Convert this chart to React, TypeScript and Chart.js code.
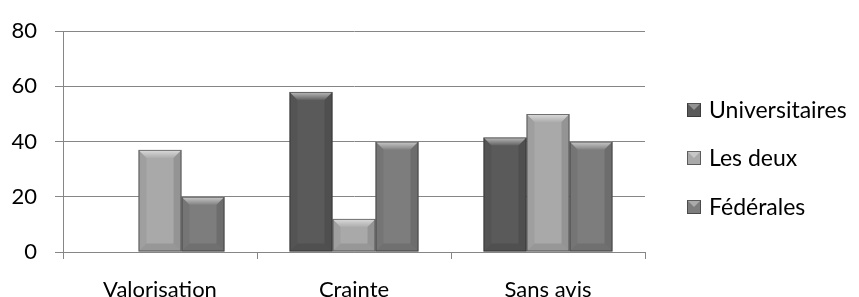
import React, { useEffect, useRef } from "react";
import { Chart, registerables } from "chart.js";

Chart.register(...registerables);

const categories = ["Valorisation", "Crainte", "Sans avis"];
const seriesNames = ["Universitaires", "Les deux", "Fédérales"];
const universitaires = [0, 58, 41.5];
const lesDeux = [37, 12, 50];
const federales = [20, 40, 40];
const yTicks = [0, 20, 40, 60, 80];

const colors = ["#5a5a5a", "#a9a9a9", "#7d7d7d"];
const FONT = "Lato, 'Liberation Sans', sans-serif";

const bevelPlugin = {
  id: "bevel",
  afterDatasetsDraw(chart: any) {
    const ctx = chart.ctx;
    chart.data.datasets.forEach((ds: any, di: number) => {
      const meta = chart.getDatasetMeta(di);
      meta.data.forEach((bar: any) => {
        const left = bar.x - bar.width / 2;
        const right = bar.x + bar.width / 2;
        const top = Math.min(bar.y, bar.base);
        const bottom = Math.max(bar.y, bar.base);
        const h = bottom - top;
        if (h < 1) return;
        const b = Math.min(8, h / 2);
        ctx.save();
        const g = ctx.createLinearGradient(0, top, 0, top + b);
        g.addColorStop(0, "rgba(255,255,255,0.6)");
        g.addColorStop(1, "rgba(255,255,255,0.05)");
        ctx.fillStyle = g;
        ctx.beginPath();
        ctx.moveTo(left, top);
        ctx.lineTo(right, top);
        ctx.lineTo(right - b, top + b);
        ctx.lineTo(left + b, top + b);
        ctx.closePath();
        ctx.fill();
        ctx.fillStyle = "rgba(0,0,0,0.06)";
        ctx.beginPath();
        ctx.moveTo(left, top);
        ctx.lineTo(left + b, top + b);
        ctx.lineTo(left + b, bottom - b);
        ctx.lineTo(left, bottom);
        ctx.closePath();
        ctx.fill();
        ctx.fillStyle = "rgba(0,0,0,0.12)";
        ctx.beginPath();
        ctx.moveTo(right, top);
        ctx.lineTo(right - b, top + b);
        ctx.lineTo(right - b, bottom - b);
        ctx.lineTo(right, bottom);
        ctx.closePath();
        ctx.fill();
        ctx.fillStyle = "rgba(0,0,0,0.1)";
        ctx.beginPath();
        ctx.moveTo(left, bottom);
        ctx.lineTo(left + b, bottom - b);
        ctx.lineTo(right - b, bottom - b);
        ctx.lineTo(right, bottom);
        ctx.closePath();
        ctx.fill();
        ctx.strokeStyle = "rgba(40,40,40,0.6)";
        ctx.lineWidth = 1;
        ctx.strokeRect(left + 0.5, top + 0.5, right - left - 1, h - 1);
        ctx.restore();
      });
    });
  },
};

const legendPlugin = {
  id: "customLegend",
  afterDraw(chart: any) {
    const ctx = chart.ctx;
    const x = 687;
    const ys = [110, 158, 207];
    ctx.save();
    chart.data.datasets.forEach((ds: any, i: number) => {
      const y = ys[i];
      const s = 14;
      ctx.fillStyle = ds.backgroundColor;
      ctx.fillRect(x, y - s / 2, s, s);
      ctx.fillStyle = "rgba(255,255,255,0.35)";
      ctx.beginPath();
      ctx.moveTo(x, y - s / 2);
      ctx.lineTo(x + s, y - s / 2);
      ctx.lineTo(x + s / 2, y);
      ctx.closePath();
      ctx.fill();
      ctx.strokeStyle = "rgba(40,40,40,0.6)";
      ctx.lineWidth = 1;
      ctx.strokeRect(x + 0.5, y - s / 2 + 0.5, s - 1, s - 1);
      ctx.fillStyle = "#000";
      ctx.font = `23px ${FONT}`;
      ctx.textBaseline = "middle";
      ctx.textAlign = "left";
      ctx.fillText(ds.label, x + 22, y + 1);
    });
    ctx.restore();
  },
};

export default function App() {
  const ref = useRef<HTMLCanvasElement>(null);
  useEffect(() => {
    const values = [universitaires, lesDeux, federales];
    const chart = new Chart(ref.current!, {
      type: "bar",
      data: {
        labels: categories,
        datasets: seriesNames.map((name, i) => ({
          label: name,
          data: values[i],
          backgroundColor: colors[i],
          borderWidth: 0,
          categoryPercentage: 0.665,
          barPercentage: 1,
        })),
      },
      options: {
        animation: false,
        responsive: false,
        maintainAspectRatio: false,
        layout: { padding: { top: 25, right: 214, left: 0, bottom: 0 } },
        plugins: { legend: { display: false }, tooltip: { enabled: false } },
        scales: {
          x: {
            grid: {
              display: true,
              drawOnChartArea: false,
              offset: true,
              tickLength: 7,
              color: "#868686",
            },
            border: { display: true, color: "#868686" },
            ticks: { color: "#000", font: { family: FONT, size: 22 }, padding: 18 },
            afterFit(scale: any) {
              scale.height = 45;
            },
          },
          y: {
            min: 0,
            max: 80,
            afterBuildTicks(scale: any) {
              scale.ticks = yTicks.map((v) => ({ value: v }));
            },
            grid: { color: "#868686", tickLength: 8 },
            border: { display: true, color: "#868686" },
            ticks: { color: "#000", font: { family: FONT, size: 22 }, padding: 18 },
            afterFit(scale: any) {
              scale.width = 63;
            },
          },
        },
      },
      plugins: [bevelPlugin, legendPlugin],
    });
    return () => chart.destroy();
  }, []);
  return (
    <div style={{ position: "fixed", left: 0, top: 0, width: 859, height: 297, background: "#fff" }}>
      <canvas ref={ref} width={859} height={297} />
    </div>
  );
}
